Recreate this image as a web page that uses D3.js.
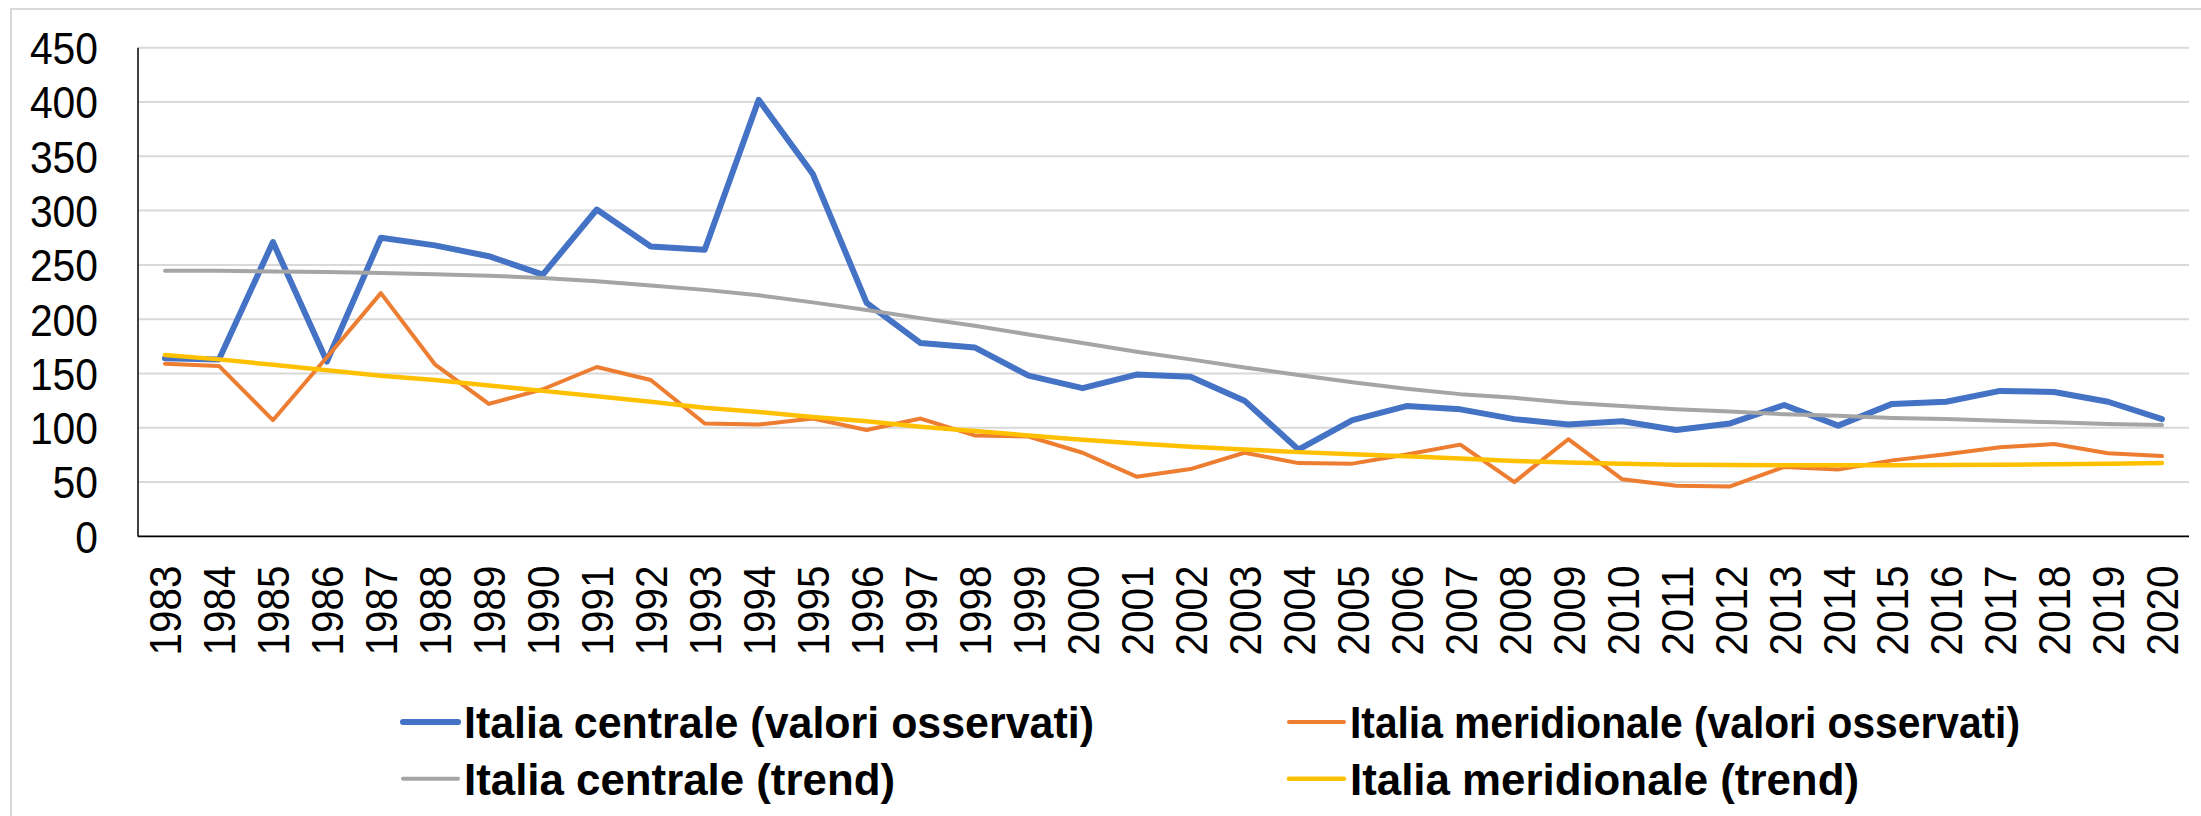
<!DOCTYPE html>
<html>
<head>
<meta charset="utf-8">
<script src="https://cdn.jsdelivr.net/npm/d3@7"></script>
<style>
  body { margin: 0; background: #fff; }
  svg { display: block; }
  .axis text { font-family: "Century Gothic", "Liberation Sans", Arial, sans-serif; fill: #000; }
  .legend text { font-family: "Century Gothic", "Liberation Sans", Arial, sans-serif; font-weight: bold; fill: #000; }
</style>
</head>
<body>
<svg id="chart" width="2201" height="816"></svg>
<script>
// categories
var years = d3.range(1983, 2021);

// series values
var centraleObs = [164, 163, 271, 161, 275, 268, 258, 241, 301, 267,
                   264, 402, 334, 215, 178, 174, 148, 136.5, 149, 147,
                   125, 80, 107, 120, 117, 108, 103, 106, 98, 104,
                   121, 102, 122, 124, 134, 133, 124, 108];
var meridionaleObs = [159, 157, 107, 165, 224, 158.5, 122, 135.5, 156, 144,
                      104, 103, 108.5, 98, 108.5, 93, 92, 77, 55, 62,
                      77, 67.5, 67, 75.5, 84.5, 50, 89.5, 52.6, 46.7, 46,
                      64, 61.5, 70, 75.6, 82, 85, 76.6, 74];
var centraleTrend = [244.5, 244.5, 244, 243.5, 242.5, 241.5, 240, 238, 235, 231,
                     227, 222, 215.5, 208.5, 201, 194, 186, 178, 170, 163,
                     155.5, 148.7, 142, 136, 131, 127.6, 123, 120, 117, 115,
                     112.5, 111, 109, 108, 106.5, 105, 103.6, 102.6];
var meridionaleTrend = [167, 163, 158, 153, 148, 144, 139, 134, 129, 124,
                        118.4, 114.5, 110, 106, 101, 97, 93, 89, 85.5, 82.6,
                        80, 77.6, 75.6, 73.7, 71.7, 69.5, 68, 67, 66, 65.8,
                        65.5, 65.5, 65.5, 65.8, 66, 66.4, 67, 67.5];

// y ticks
var yTicks = [0, 50, 100, 150, 200, 250, 300, 350, 400, 450];

var series = [
    { name: "Italia centrale (valori osservati)", values: centraleObs, color: "#4472C4", width: 6 },
    { name: "Italia meridionale (valori osservati)", values: meridionaleObs, color: "#ED7D31", width: 4 },
    { name: "Italia centrale (trend)", values: centraleTrend, color: "#A5A5A5", width: 4 },
    { name: "Italia meridionale (trend)", values: meridionaleTrend, color: "#FFC000", width: 4.5 }
];

var svg = d3.select("#chart");

var plotLeft = 138, plotRight = 2189, plotTop = 47.7, plotBottom = 536.4;

// outer chart border
svg.append("rect")
    .attr("x", 11).attr("y", 9)
    .attr("width", 2400).attr("height", 1000)
    .attr("fill", "#fff")
    .attr("stroke", "#D9D9D9")
    .attr("stroke-width", 2);

var x = d3.scalePoint()
    .domain(years)
    .range([plotLeft, plotRight])
    .padding(0.5);

var y = d3.scaleLinear()
    .domain([0, 450])
    .range([plotBottom, plotTop]);

// gridlines
svg.append("g")
    .selectAll("line")
    .data(yTicks.filter(function(d) { return d > 0; }))
    .enter().append("line")
    .attr("x1", plotLeft).attr("x2", plotRight)
    .attr("y1", function(d) { return y(d); })
    .attr("y2", function(d) { return y(d); })
    .attr("stroke", "#D9D9D9")
    .attr("stroke-width", 2);

// y axis
var yAxis = svg.append("g")
    .attr("class", "axis")
    .attr("transform", "translate(" + plotLeft + ",0)")
    .call(d3.axisLeft(y).tickValues(yTicks).tickSize(0).tickPadding(40));
yAxis.select(".domain").remove();
yAxis.selectAll("text")
    .attr("font-size", 44)
    .attr("dy", "0.36em")
    .attr("textLength", function(d) { return String(d).length * 22.7; })
    .attr("lengthAdjust", "spacingAndGlyphs");

svg.append("line")
    .attr("x1", plotLeft).attr("x2", plotLeft)
    .attr("y1", plotTop).attr("y2", plotBottom)
    .attr("stroke", "#000")
    .attr("stroke-width", 1.5);

// x axis
var xAxis = svg.append("g")
    .attr("class", "axis")
    .attr("transform", "translate(0," + plotBottom + ")")
    .call(d3.axisBottom(x).tickSize(0).tickPadding(0));
xAxis.select(".domain").remove();
xAxis.selectAll("text")
    .attr("font-size", 44)
    .attr("text-anchor", "end")
    .attr("transform", "rotate(-90)")
    .attr("x", -29)
    .attr("y", 0)
    .attr("dy", "0.36em")
    .attr("textLength", 90)
    .attr("lengthAdjust", "spacingAndGlyphs");

svg.append("line")
    .attr("x1", plotLeft).attr("x2", plotRight)
    .attr("y1", plotBottom).attr("y2", plotBottom)
    .attr("stroke", "#000")
    .attr("stroke-width", 1.8);

// lines
var line = d3.line()
    .x(function(d, i) { return x(years[i]); })
    .y(function(d) { return y(d); });

svg.append("g")
    .selectAll("path")
    .data(series)
    .enter().append("path")
    .attr("d", function(d) { return line(d.values); })
    .attr("fill", "none")
    .attr("stroke", function(d) { return d.color; })
    .attr("stroke-width", function(d) { return d.width; })
    .attr("stroke-linejoin", "round")
    .attr("stroke-linecap", "round");

// legend
var legendItems = [
    { s: series[0], x: 403, y: 722, len: 630 },
    { s: series[1], x: 1289, y: 722, len: 670 },
    { s: series[2], x: 403, y: 778.7, len: 431 },
    { s: series[3], x: 1289, y: 778.7, len: 509 }
];

var legend = svg.append("g").attr("class", "legend");
var item = legend.selectAll("g")
    .data(legendItems)
    .enter().append("g")
    .attr("transform", function(d) { return "translate(" + d.x + "," + d.y + ")"; });

item.append("line")
    .attr("x1", 0).attr("x2", 55)
    .attr("stroke", function(d) { return d.s.color; })
    .attr("stroke-width", function(d) { return d.s.width; })
    .attr("stroke-linecap", "round");

item.append("text")
    .attr("x", 61)
    .attr("dy", "0.36em")
    .attr("font-size", 44)
    .attr("textLength", function(d) { return d.len; })
    .attr("lengthAdjust", "spacingAndGlyphs")
    .text(function(d) { return d.s.name; });
</script>
</body>
</html>
